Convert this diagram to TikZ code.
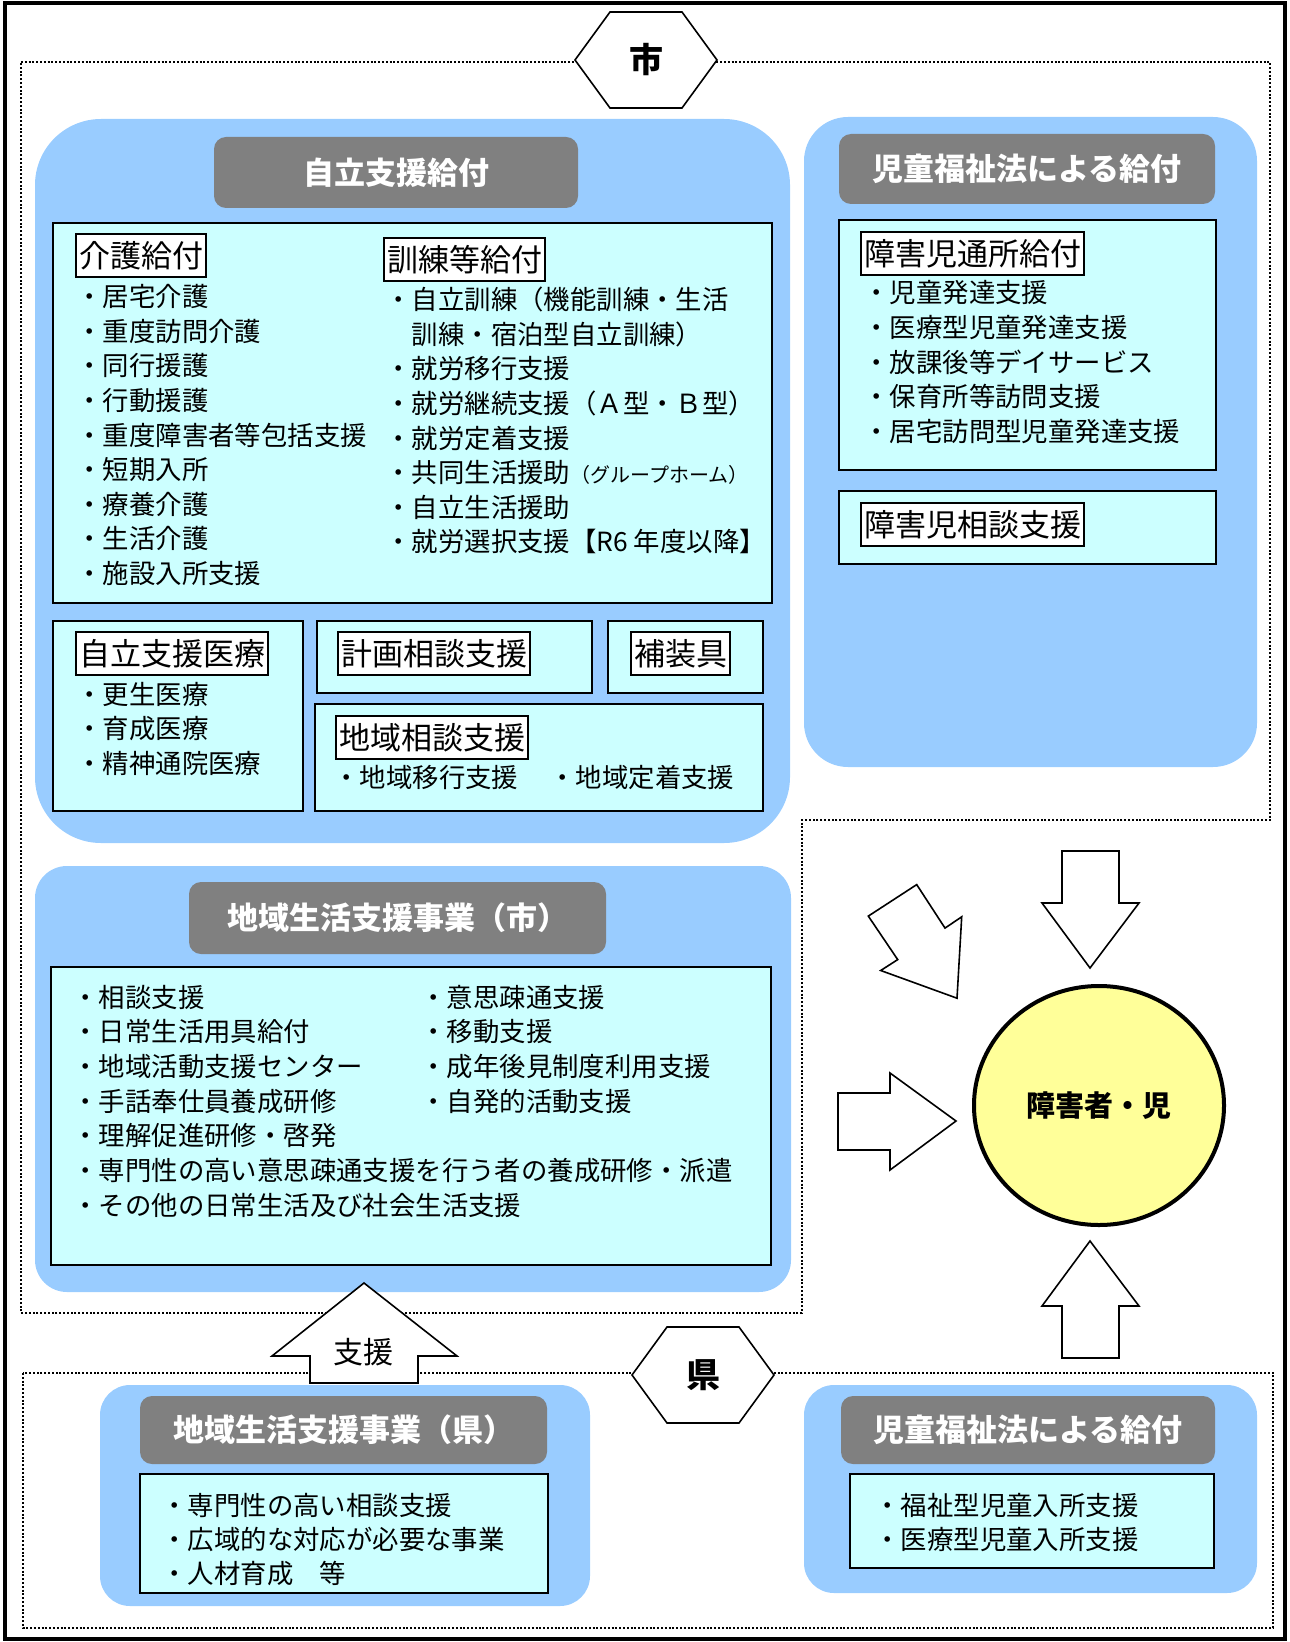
\documentclass[tikz,border=0pt]{standalone}
\usepackage{fontspec}
\setmainfont{Noto Sans CJK JP}
\usetikzlibrary{fit,shapes.geometric}
\definecolor{paleblue}{HTML}{99CCFF}
\definecolor{palecyan}{HTML}{CCFFFF}
\definecolor{headgray}{HTML}{808080}
\definecolor{paleyellow}{HTML}{FFFF99}

\begin{document}
\begin{tikzpicture}[x=0.5pt,y=-0.5pt,
    bluebox/.style={fill=paleblue,inner sep=0pt},
    cyanbox/.style={fill=palecyan,draw=black,line width=1pt,inner sep=0pt},
    headbox/.style={fill=headgray,rounded corners=6pt,inner sep=0pt,text=white,
      font=\bfseries\fontsize{15.5}{18}\selectfont},
    tagbox/.style={draw=black,line width=1pt,fill=white,anchor=west,inner xsep=1.5pt,
      inner ysep=0pt,minimum height=21.5pt,font=\fontsize{15.5}{18}\selectfont},
    itemtext/.style={anchor=base west,inner sep=0pt,font=\fontsize{13.2}{15}\selectfont},
    blockarrow/.style={draw=black,fill=white,line width=0.8pt},
    zone/.style={draw=black,line width=1.2pt,dash pattern=on 1pt off 0.9pt}]
    \useasboundingbox (0,0) rectangle (1289,1642);
    \draw[line width=1.6pt] (5,3) rectangle (1285,1639);
    \draw[zone] (21,62) -- (1270,62) -- (1270,820) -- (802,820) -- (802,1313) -- (21,1313) -- cycle;
    \draw[zone] (23,1373) rectangle (1273,1628);

    \node[bluebox,rounded corners=33pt,fit={(35,119) (790,843)}] (jiritsu) {};
    \node[bluebox,rounded corners=22pt,fit={(804,117) (1257,767)}] (jidou) {};
    \node[bluebox,rounded corners=16pt,fit={(35,866) (791,1292)}] (chiiki) {};
    \node[bluebox,rounded corners=15pt,fit={(100,1385) (590,1606)}] (kenchiiki) {};
    \node[bluebox,rounded corners=15pt,fit={(804,1385) (1257,1593)}] (kenjidou) {};

    \node[headbox,minimum width=182pt,minimum height=35.5pt] (jiritsuhead) at (396,172.5) {自立支援給付};
    \node[headbox,minimum width=188pt,minimum height=35pt] (jidouhead) at (1027,169) {児童福祉法による給付};
    \node[headbox,minimum width=208.5pt,minimum height=36pt] (chiikihead) at (397.5,918) {地域生活支援事業（市）};
    \node[headbox,minimum width=203.5pt,minimum height=34pt] (kenchiikihead) at (343.5,1430) {地域生活支援事業（県）};
    \node[headbox,minimum width=187pt,minimum height=34pt] (kenjidouhead) at (1028,1430) {児童福祉法による給付};

    \node[cyanbox,fit={(53,223) (772,603)}] (kyufu) {};
    \node[cyanbox,fit={(53,621) (303,811)}] (iryou) {};
    \node[cyanbox,fit={(317,621) (592,693)}] (keikaku) {};
    \node[cyanbox,fit={(608,621) (763,693)}] (hosougu) {};
    \node[cyanbox,fit={(315,704) (763,811)}] (soudan) {};
    \node[cyanbox,fit={(839,220) (1216,470)}] (tsusho) {};
    \node[cyanbox,fit={(839,491) (1216,564)}] (jisoudan) {};
    \node[cyanbox,fit={(51,967) (771,1265)}] (jigyou) {};
    \node[cyanbox,fit={(140,1474) (548,1593)}] (kenjigyou) {};
    \node[cyanbox,fit={(850,1474) (1214,1568)}] (nyusho) {};

    \node[tagbox] (kaigotag) at (75,256) {介護給付};
    \node[tagbox] (kunrentag) at (383,259.5) {訓練等給付};
    \node[tagbox] (iryoutag) at (75,653.5) {自立支援医療};
    \node[tagbox] (keikakutag) at (337,653.5) {計画相談支援};
    \node[tagbox] (hosougutag) at (630,653.5) {補装具};
    \node[tagbox] (soudantag) at (335,737.5) {地域相談支援};
    \node[tagbox] (tsushotag) at (860,254) {障害児通所給付};
    \node[tagbox] (jisoudantag) at (860,524.5) {障害児相談支援};

    \foreach \t [count=\i from 0] in {・居宅介護,・重度訪問介護,・同行援護,・行動援護,
      ・重度障害者等包括支援,・短期入所,・療養介護,・生活介護,・施設入所支援}
      \node[itemtext] (kaigo\i) at (76,307+34.5*\i) {\t};
    \foreach \t [count=\i from 0] in {・自立訓練（機能訓練・生活,\hspace*{1em}訓練・宿泊型自立訓練）,
      ・就労移行支援,・就労継続支援（Ａ型・Ｂ型）,・就労定着支援,
      ・共同生活援助{\fontsize{10}{12}\selectfont（グループホーム）},・自立生活援助,
      ・就労選択支援【R6 年度以降】}
      \node[itemtext] (kunren\i) at (385,310+34.5*\i) {\t};
    \foreach \t [count=\i from 0] in {・更生医療,・育成医療,・精神通院医療}
      \node[itemtext] (iryou\i) at (76,704+34.5*\i) {\t};
    \node[itemtext] (ikou) at (333,787) {・地域移行支援};
    \node[itemtext] (teichaku) at (549,787) {・地域定着支援};
    \foreach \t [count=\i from 0] in {・児童発達支援,・医療型児童発達支援,・放課後等デイサービス,
      ・保育所等訪問支援,・居宅訪問型児童発達支援}
      \node[itemtext] (tsusho\i) at (863,303+34.5*\i) {\t};
    \foreach \t [count=\i from 0] in {・相談支援,・日常生活用具給付,・地域活動支援センター,
      ・手話奉仕員養成研修,・理解促進研修・啓発,
      ・専門性の高い意思疎通支援を行う者の養成研修・派遣,・その他の日常生活及び社会生活支援}
      \node[itemtext] (jigyou\i) at (72,1007+34.7*\i) {\t};
    \foreach \t [count=\i from 0] in {・意思疎通支援,・移動支援,・成年後見制度利用支援,・自発的活動支援}
      \node[itemtext] (jigyoub\i) at (420,1007+34.7*\i) {\t};
    \foreach \t [count=\i from 0] in {・専門性の高い相談支援,・広域的な対応が必要な事業,・人材育成　等}
      \node[itemtext] (kenjigyou\i) at (161,1515+34*\i) {\t};
    \foreach \t [count=\i from 0] in {・福祉型児童入所支援,・医療型児童入所支援}
      \node[itemtext] (nyusho\i) at (874,1515+34*\i) {\t};

    \draw[blockarrow] (1062,851) -- (1119,851) -- (1119,903) -- (1139,903) -- (1090,968)
      -- (1042,903) -- (1062,903) -- cycle;
    \draw[blockarrow] (1062,1358) -- (1119,1358) -- (1119,1306) -- (1139,1306) -- (1090,1241)
      -- (1042,1306) -- (1062,1306) -- cycle;
    \draw[blockarrow] (838,1093) -- (890,1093) -- (890,1073) -- (956,1121) -- (890,1170)
      -- (890,1150) -- (838,1150) -- cycle;
    \draw[blockarrow] (916.7,884.6) -- (868.3,916.1) -- (897.7,959.6) -- (880.7,970.5)
      -- (957,998.2) -- (961.7,916.8) -- (945,928.1) -- cycle;
    \draw[blockarrow] (310,1383) -- (418,1383) -- (418,1356) -- (457,1356) -- (364,1283)
      -- (272,1356) -- (310,1356) -- cycle;
    \node[font=\fontsize{15}{18}\selectfont] (shien) at (363,1352) {支援};

    \node[ellipse,draw=black,line width=2pt,fill=paleyellow,minimum width=125pt,
      minimum height=119.5pt,inner sep=0pt,font=\bfseries\fontsize{14.5}{18}\selectfont]
      (person) at (1099,1105.5) {障害者・児};

    \foreach \t/\cx/\cy [count=\i] in {市/646/60,県/703/1375}{
      \draw[blockarrow] (\cx-71,\cy) -- ++(35,-48) -- ++(72,0) -- ++(35,48) -- ++(-35,48)
        -- ++(-72,0) -- cycle;
      \node[font=\bfseries\fontsize{17}{20}\selectfont] (hex\i) at (\cx,\cy) {\t};
    }
\end{tikzpicture}
\end{document}
